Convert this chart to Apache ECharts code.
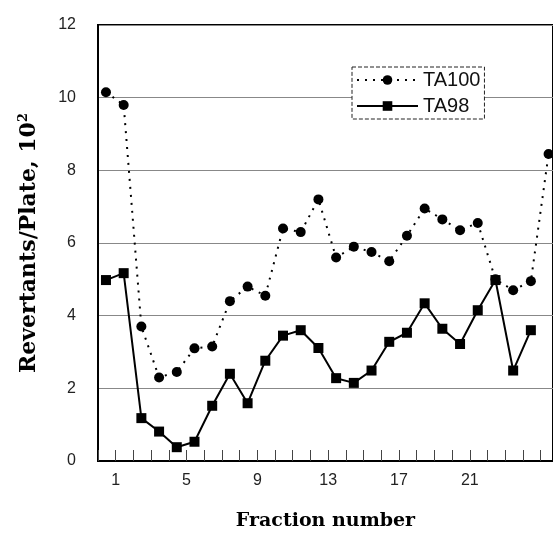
<!DOCTYPE html>
<html>
<head>
<meta charset="utf-8">
<script src="https://cdn.jsdelivr.net/npm/echarts@6/dist/echarts.min.js"></script>
<style>
  html, body { margin: 0; padding: 0; background: #fff; }
  #chart { width: 553px; height: 537px; }
</style>
</head>
<body>
<div id="chart"></div>
<script>
// fraction positions on the x axis (points sit between the tick marks)
var fractions = [0.45, 1.45, 2.45, 3.45, 4.45, 5.45, 6.45, 7.45, 8.45, 9.45, 10.45, 11.45, 12.45,
  13.45, 14.45, 15.45, 16.45, 17.45, 18.45, 19.45, 20.45, 21.45, 22.45, 23.45, 24.45, 25.45];
var ta100 = [10.15, 9.8, 3.7, 2.3, 2.45, 3.1, 3.15, 4.4, 4.8, 4.55, 6.4, 6.3, 7.2,
  5.6, 5.9, 5.75, 5.5, 6.2, 6.95, 6.65, 6.35, 6.55, 5.0, 4.7, 4.95, 8.45];
var ta98 = [4.98, 5.17, 1.18, 0.81, 0.38, 0.53, 1.52, 2.4, 1.59, 2.76, 3.45, 3.6, 3.11,
  2.28, 2.15, 2.49, 3.28, 3.53, 4.34, 3.64, 3.22, 4.15, 4.98, 2.49, 3.6];
var xTickLabels = [1, 5, 9, 13, 17, 21];

function pairs(xs, ys) {
  return ys.map(function (y, i) { return [xs[i], y]; });
}

var chart = echarts.init(document.getElementById("chart"));

chart.setOption({
  animation: false,
  grid: { left: 98, right: -2, top: 25, bottom: 76, show: true, borderColor: "#000", borderWidth: 2 },
  legend: {
    left: 352, top: 67,
    orient: "vertical",
    padding: [3, 4, 3, 4],
    itemWidth: 61, itemHeight: 12, itemGap: 6,
    backgroundColor: "#fff",
    borderColor: "#222", borderWidth: 1, borderType: "dashed",
    textStyle: { fontFamily: "Liberation Sans, Arial", fontSize: 20, color: "#111" },
    data: ["TA100", "TA98"]
  },
  xAxis: {
    type: "value",
    min: 0, max: 25.7, interval: 1,
    name: "Fraction number",
    nameLocation: "middle",
    nameGap: 51,
    nameTextStyle: { fontFamily: "DejaVu Serif", fontWeight: "bold", fontSize: 19, color: "#000" },
    axisLine: { lineStyle: { color: "#000", width: 2 } },
    axisTick: { inside: true, length: 11, lineStyle: { color: "#444", width: 1 } },
    axisLabel: {
      margin: 12,
      fontFamily: "Liberation Sans, Arial", fontSize: 16, color: "#222",
      showMaxLabel: false,
      formatter: function (v) { return xTickLabels.indexOf(v) >= 0 ? String(v) : ""; }
    },
    splitLine: { show: false }
  },
  yAxis: {
    type: "value",
    min: 0, max: 12, interval: 2,
    name: "Revertants/Plate, 10{sup|2}",
    nameLocation: "middle",
    nameGap: 56,
    nameTextStyle: {
      fontFamily: "DejaVu Serif", fontWeight: "bold", fontSize: 22, color: "#000",
      rich: { sup: { fontFamily: "DejaVu Serif", fontWeight: "bold", fontSize: 13, verticalAlign: "top", padding: [0, 0, 12, 0] } }
    },
    axisLine: { show: true, lineStyle: { color: "#000", width: 2 } },
    axisTick: { show: false },
    axisLabel: { margin: 22, fontFamily: "Liberation Sans, Arial", fontSize: 16, color: "#222" },
    splitLine: { lineStyle: { color: "#888", width: 1 } }
  },
  series: [
    {
      name: "TA100",
      type: "line",
      data: pairs(fractions, ta100),
      symbol: "circle",
      symbolSize: 10,
      itemStyle: { color: "#000" },
      lineStyle: { color: "#000", width: 2, type: [2, 6] },
      z: 3
    },
    {
      name: "TA98",
      type: "line",
      data: pairs(fractions, ta98),
      symbol: "rect",
      symbolSize: 10,
      itemStyle: { color: "#000" },
      lineStyle: { color: "#000", width: 2 },
      z: 4
    }
  ]
});
</script>
</body>
</html>
